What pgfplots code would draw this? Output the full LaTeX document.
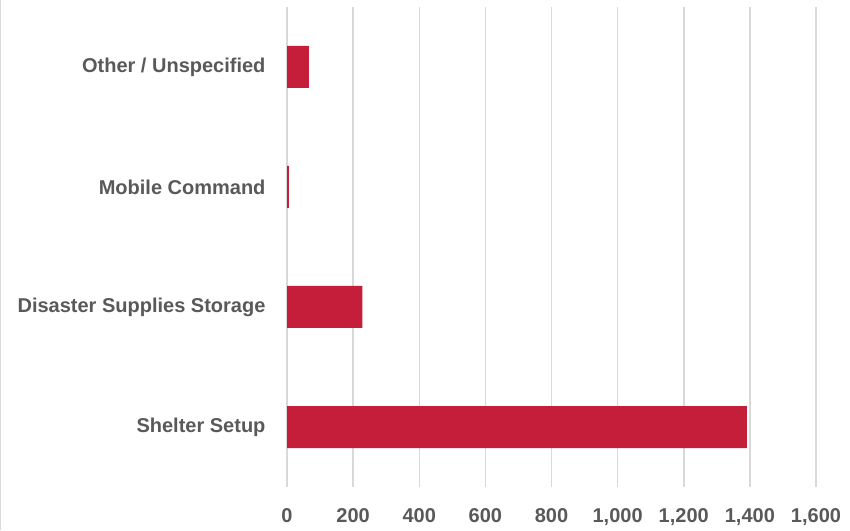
\documentclass[border=0pt]{standalone}
\usepackage{pgfplots}
\pgfplotsset{compat=1.18}
\usepackage{fontspec}
\setmainfont{Liberation Sans}
\definecolor{barred}{RGB}{196,30,58}
\definecolor{txt}{RGB}{89,89,89}
\definecolor{gridc}{RGB}{217,217,217}
\begin{document}
\begin{tikzpicture}
\path[use as bounding box] (0,0) rectangle (850pt,530pt);
\draw[gridc, line width=1.2pt] (0.8pt,0) -- (0.8pt,530pt);
\begin{axis}[
  at={(287pt,43pt)}, anchor=south west,
  scale only axis, width=529pt, height=480pt,
  xbar, bar width=42pt,
  xmin=0, xmax=1600, ymin=-0.5, ymax=3.5,
  xtick={0,200,...,1600},
  ytick={0,1,2,3},
  yticklabels={Shelter Setup, Disaster Supplies Storage, Mobile Command, Other / Unspecified},
  xmajorgrids, major grid style={gridc, line width=1.5pt},
  axis x line=bottom, axis y line=left,
  axis line style={draw=none},
  major tick length=0pt,
  scaled x ticks=false,
  /pgf/number format/assume math mode=true,
  /pgf/number format/fixed,
  /pgf/number format/1000 sep={,},
  tick label style={font=\bfseries\fontsize{20}{22}\selectfont, text=txt},
  xticklabel style={yshift=-18pt},
  yticklabel style={xshift=-18pt},
]
\addplot[fill=barred, draw=none] coordinates {(1391,0) (228,1) (6,2) (66,3)};
\end{axis}
\end{tikzpicture}
\end{document}
